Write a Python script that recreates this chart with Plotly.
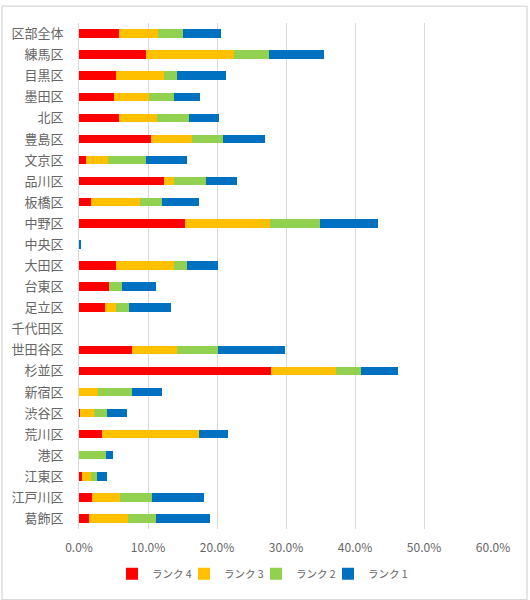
import plotly.graph_objects as go

categories = ["区部全体", "練馬区", "目黒区", "墨田区", "北区", "豊島区", "文京区", "品川区",
              "板橋区", "中野区", "中央区", "大田区", "台東区", "足立区", "千代田区", "世田谷区",
              "杉並区", "新宿区", "渋谷区", "荒川区", "港区", "江東区", "江戸川区", "葛飾区"]

rank4 = [5.8, 9.7, 5.4, 5.1, 5.8, 10.4, 1.0, 12.3, 1.8, 15.4, 0.0, 5.4, 4.3, 3.7, 0.0, 7.7,
         27.8, 0.0, 0.2, 3.3, 0.0, 0.5, 1.9, 1.4]
rank3 = [5.6, 12.8, 6.9, 5.1, 5.5, 6.0, 3.2, 1.5, 7.1, 12.3, 0.0, 8.4, 0.0, 1.7, 0.0, 6.5,
         9.5, 2.7, 2.0, 14.1, 0.0, 1.2, 4.0, 5.7]
rank2 = [3.6, 5.0, 1.9, 3.6, 4.6, 4.4, 5.5, 4.6, 3.2, 7.2, 0.0, 1.8, 1.9, 1.8, 0.0, 6.0,
         3.5, 5.0, 1.8, 0.0, 3.9, 0.9, 4.7, 4.1]
rank1 = [5.6, 8.0, 7.1, 3.7, 4.4, 6.1, 5.9, 4.5, 5.3, 8.5, 0.3, 4.5, 5.0, 6.1, 0.0, 9.7,
         5.5, 4.4, 2.9, 4.2, 1.0, 1.4, 7.5, 7.8]

series = [("ランク 4", rank4, "#FF0000"),
          ("ランク 3", rank3, "#FFC000"),
          ("ランク 2", rank2, "#92D050"),
          ("ランク 1", rank1, "#0070C0")]

tick_vals = [0, 0.1, 0.2, 0.3, 0.4, 0.5, 0.6]
tick_text = ["0.0%", "10.0%", "20.0%", "30.0%", "40.0%", "50.0%", "60.0%"]

W, H = 530, 600
ml, mr, mt, mb = 79, 37, 23, 68
pw, ph = W - ml - mr, H - mt - mb

def px_x(p):
    return (p - ml) / pw

def px_y(p):
    return (H - mb - p) / ph

legend_ids = ["legend", "legend2", "legend3", "legend4"]
legend_px = [112, 184, 256, 328]

fig = go.Figure()
for (name, vals, color), lid in zip(series, legend_ids):
    fig.add_trace(go.Bar(
        y=categories, x=[v / 100 for v in vals], name=name, orientation="h",
        marker=dict(color=color, line=dict(width=0)), legend=lid,
    ))

legend_layout = {}
for lid, lx in zip(legend_ids, legend_px):
    legend_layout[lid] = dict(orientation="h", x=px_x(lx), xanchor="left",
                              y=px_y(577), yanchor="middle",
                              font=dict(size=10.5, color="#666666"),
                              itemwidth=30, bgcolor="rgba(0,0,0,0)")

fig.update_layout(
    width=W, height=H,
    margin=dict(l=ml, r=mr, t=mt, b=mb),
    barmode="stack", bargap=0.6,
    plot_bgcolor="white", paper_bgcolor="white",
    font=dict(family="Noto Sans CJK JP", color="#666666", size=12),
    xaxis=dict(range=[0, 0.6], tickvals=tick_vals, ticktext=tick_text,
               showgrid=True, gridcolor="#D9D9D9", gridwidth=1, zeroline=False,
               showline=False, ticks="", ticklabelstandoff=10,
               tickfont=dict(size=12, color="#666666"),
               fixedrange=True),
    yaxis=dict(autorange="reversed", showgrid=False, zeroline=False,
               showline=True, linecolor="#D9D9D9", linewidth=1, ticks="",
               ticklabelstandoff=12,
               tickfont=dict(size=13, color="#666666")),
    showlegend=True,
    shapes=[dict(type="rect", xref="paper", yref="paper",
                 x0=px_x(2), x1=px_x(527), y0=px_y(603), y1=px_y(6),
                 line=dict(color="#D9D9D9", width=1.3), layer="below")],
    **legend_layout,
)

fig.write_html("out.html")
